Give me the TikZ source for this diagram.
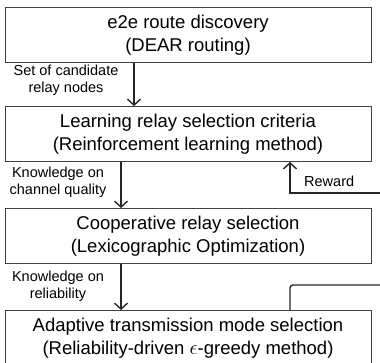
\documentclass[tikz,border=0pt]{standalone}
\usepackage{fontspec}
\setmainfont{Liberation Sans}
\usetikzlibrary{arrows.meta}
\begin{document}
\begin{tikzpicture}[x=1pt,y=-1pt,
  box/.style={draw=black!75,line width=0.9pt,minimum width=366pt,minimum height=55pt,inner sep=0pt,align=center,font=\fontsize{18.5}{22.5}\selectfont},
  lbl/.style={align=center,inner sep=0pt,font=\fontsize{14.5}{17}\selectfont},
  arr/.style={draw=black!85,line width=1.4pt,-{Straight Barb[length=6pt,width=13pt,line width=1.4pt]}},
  link/.style={draw=black!85,line width=1.4pt}]
\useasboundingbox (0,0) rectangle (380,362);
\node[box] (b1) at (188,35) {e2e route discovery\\(DEAR routing)};
\node[box] (b2) at (188,134) {Learning relay selection criteria\\(Reinforcement learning method)};
\node[box] (b3) at (188,236) {Cooperative relay selection\\(Lexicographic Optimization)};
\node[box] (b4) at (188,338) {Adaptive transmission mode selection\\(Reliability-driven {\fontsize{21}{21}\selectfont$\epsilon$}-greedy method)};
\coordinate (a1s) at (134,0 |- b1.south);
\draw[arr] (a1s) -- (a1s |- b2.north);
\coordinate (a2s) at (121,0 |- b2.south);
\draw[arr] (a2s) -- (a2s |- b3.north);
\coordinate (a3s) at (121,0 |- b3.south);
\draw[arr] (a3s) -- (a3s |- b4.north);
\node[lbl] (l1) at (66,80) {Set of candidate\\relay nodes};
\node[lbl] (l2) at (58,182) {Knowledge on\\channel quality};
\node[lbl] (l3) at (58,286) {Knowledge on\\reliability};
\coordinate (rw) at (382,193);
\coordinate (rwb) at (290,0 |- b2.south);
\draw[arr] (rw) -- (rwb |- rw) -- (rwb);
\node[lbl,anchor=base west] (lr) at (304,186) {Reward};
\coordinate (fb) at (382,285);
\coordinate (fbb) at (290,0 |- b4.north);
\draw[link,rounded corners=3pt] (fbb) -- (fbb |- fb) -- (fb);
\end{tikzpicture}
\end{document}
